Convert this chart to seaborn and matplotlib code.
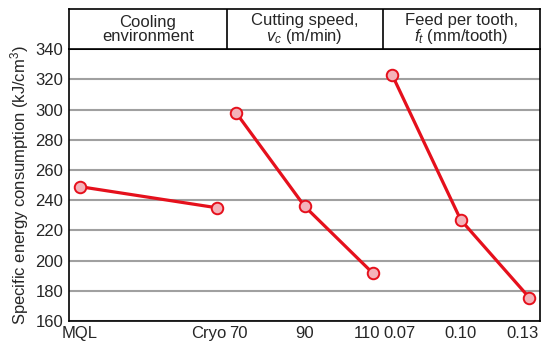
import pandas as pd
import matplotlib
matplotlib.use("Agg")
import matplotlib.pyplot as plt
from matplotlib.transforms import ScaledTranslation
import seaborn as sns

# Data

cooling_labels = ["MQL", "Cryo"]
cooling_energy = [249, 235]

speed_labels = ["70", "90", "110"]
speed_energy = [298, 236, 191.5]

feed_labels = ["0.07", "0.10", "0.13"]
feed_energy = [323, 227, 175.5]

headers = ["Cooling\nenvironment",
           "Cutting speed,\n$v_c$ (m/min)",
           "Feed per tooth,\n$f_t$ (mm/tooth)"]

y_ticks = list(range(160, 341, 20))

# Style

sns.set_style("white")
plt.rcParams["font.family"] = ["Liberation Sans", "DejaVu Sans"]
plt.rcParams["mathtext.fontset"] = "custom"
plt.rcParams["mathtext.rm"] = "Liberation Sans"
plt.rcParams["mathtext.it"] = "Liberation Sans:italic"

RED = "#e5101c"
PINK = "#f4b3ba"
GRID = "#a0a0a0"
FS = 12

# x layout: each group sits on its own stretch of a shared axis
group_starts = [0.0, 2.277, 4.555]
group_gaps = [2.0, 1.0, 1.0]
# small sideways nudges (px) so neighbouring tick labels don't collide
label_nudge = [0, -8, 2, 0, -6.5, 7, 0, -6.5]


def build_frame():
    rows = []
    groups = [(cooling_labels, cooling_energy),
              (speed_labels, speed_energy),
              (feed_labels, feed_energy)]
    for g, (labels, values) in enumerate(groups):
        for i, (lab, val) in enumerate(zip(labels, values)):
            rows.append({"group": g, "label": lab,
                         "x": group_starts[g] + i * group_gaps[g],
                         "energy": val})
    return pd.DataFrame(rows)


def main():
    df = build_frame()
    fig = plt.figure(figsize=(5.5, 3.52), dpi=100)
    ax = fig.add_axes([0.126, 0.088, 0.855, 0.772])
    hx = fig.add_axes([0.126, 0.860, 0.855, 0.1135])

    xlim = (-0.156, 6.705)

    for g, sub in df.groupby("group"):
        sns.lineplot(data=sub, x="x", y="energy", ax=ax, color=RED,
                     linewidth=2.3, marker="o", markersize=8.3,
                     markerfacecolor=PINK, markeredgecolor=RED,
                     markeredgewidth=1.4, zorder=3)

    ax.set_xlim(*xlim)
    ax.set_ylim(160, 340)
    ax.set_yticks(y_ticks)
    ax.set_xticks(df["x"])
    ax.set_xticklabels(df["label"])
    ax.yaxis.grid(True, color=GRID, linewidth=1.5)
    ax.set_axisbelow(True)
    ax.tick_params(axis="x", direction="in", length=4.3, width=0.9,
                   color="black", labelsize=FS, pad=3.5)
    ax.tick_params(axis="y", length=0, labelsize=FS, pad=4.5)
    for s in ax.spines.values():
        s.set_color("black")
        s.set_linewidth(1.2)
    ax.set_xlabel("")
    ax.set_ylabel("Specific energy consumption (kJ/cm$^3$)", fontsize=FS,
                  labelpad=3)

    for lab, dx in zip(ax.get_xticklabels(), label_nudge):
        lab.set_transform(lab.get_transform() +
                          ScaledTranslation(dx / 100, 0, fig.dpi_scale_trans))

    # header boxes above the plot
    hx.set_xlim(*xlim)
    hx.set_ylim(0, 1)
    hx.set_xticks([])
    hx.set_yticks([])
    for s in hx.spines.values():
        s.set_color("black")
        s.set_linewidth(1.2)
    bounds = [xlim[0],
              (2.0 + group_starts[1]) / 2,
              (group_starts[1] + 2 * group_gaps[1] + group_starts[2]) / 2,
              xlim[1]]
    for b in bounds[1:-1]:
        hx.axvline(b, color="black", linewidth=1.2)
    for i, txt in enumerate(headers):
        hx.text((bounds[i] + bounds[i + 1]) / 2, 0.5, txt, ha="center",
                va="center", fontsize=FS, linespacing=0.9)

    fig.savefig("out.png", dpi=100)


if __name__ == "__main__":
    main()
